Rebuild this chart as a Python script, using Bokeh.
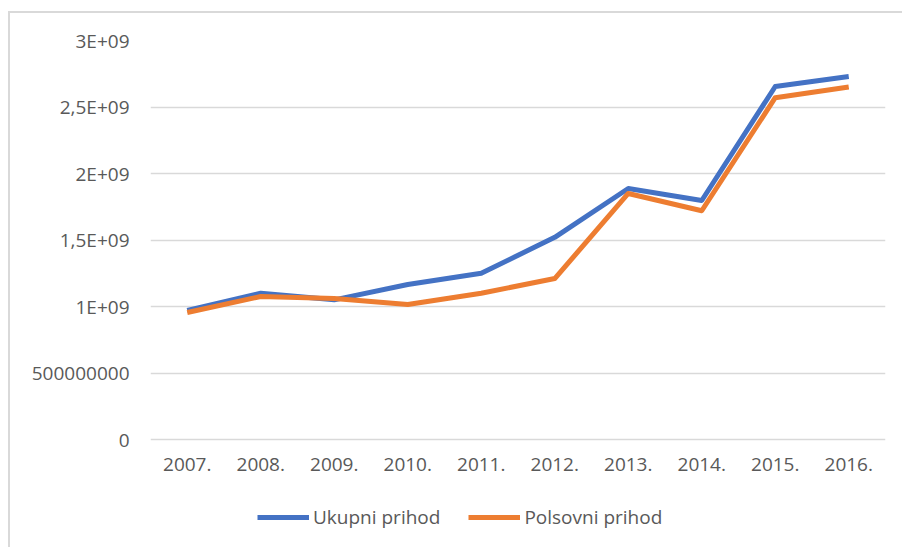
from bokeh.plotting import figure
from bokeh.embed import file_html
from bokeh.resources import INLINE
from bokeh.models import FixedTicker, Legend, LegendItem, ColumnDataSource

years = ["2007.", "2008.", "2009.", "2010.", "2011.", "2012.", "2013.", "2014.", "2015.", "2016."]
ukupni = [0.97e9, 1.10e9, 1.05e9, 1.165e9, 1.25e9, 1.52e9, 1.887e9, 1.797e9, 2.654e9, 2.73e9]
polsovni = [0.955e9, 1.075e9, 1.06e9, 1.015e9, 1.10e9, 1.21e9, 1.85e9, 1.72e9, 2.57e9, 2.65e9]
y_ticks = [0, 5e8, 1e9, 1.5e9, 2e9, 2.5e9, 3e9]
y_labels = ["0", "500000000", "1E+09", "1,5E+09", "2E+09", "2,5E+09", "3E+09"]

FONT = "Open Sans"
TXT = "#595959"

# frame extends below zero so that the legend can sit inside it
EXTRA_PX = 108
FRAME_H = 399 + EXTRA_PX
y_start = -3e9 * EXTRA_PX / 399

p = figure(x_range=years, y_range=(y_start, 3e9), frame_width=735, frame_height=FRAME_H,
           min_border_left=140, min_border_top=27, min_border_right=17, min_border_bottom=0,
           output_backend="svg", toolbar_location=None)
p.outline_line_color = None
p.background_fill_color = "white"
p.border_fill_color = "white"
p.styles = {"margin-left": "8px", "margin-top": "11px",
            "border-left": "2px solid #d9d9d9", "border-top": "2px solid #d9d9d9"}

src = ColumnDataSource(dict(x=years, u=ukupni, pl=polsovni))
r1 = p.line("x", "u", source=src, line_color="#4472C4", line_width=5, line_join="round")
r2 = p.line("x", "pl", source=src, line_color="#ED7D31", line_width=5, line_join="round")

p.xgrid.grid_line_color = None
p.ygrid.grid_line_color = "#d9d9d9"
p.ygrid.grid_line_width = 1.5

p.yaxis.ticker = FixedTicker(ticks=y_ticks)
p.yaxis.major_label_overrides = {t: l for t, l in zip(y_ticks, y_labels)}
for ax in (p.xaxis[0], p.yaxis[0]):
    ax.axis_line_color = None
    ax.major_tick_line_color = None
    ax.minor_tick_line_color = None
    ax.major_label_text_font = FONT
    ax.major_label_text_font_size = "19px"
    ax.major_label_text_color = TXT
p.yaxis.major_label_standoff = 15
p.xaxis.major_label_standoff = 12
p.xaxis.fixed_location = 0
p.x_range.range_padding = 0

legend = Legend(items=[LegendItem(label="Ukupni prihod", renderers=[r1]),
                       LegendItem(label="Polsovni prihod", renderers=[r2])],
                orientation="horizontal", location=(107, 17),
                label_text_font=FONT, label_text_font_size="19px", label_text_color=TXT,
                glyph_width=52, glyph_height=20, label_standoff=4, spacing=28,
                border_line_color=None, background_fill_alpha=0, margin=0, padding=5)
p.add_layout(legend, "center")

open("out.html", "w").write(file_html(p, INLINE))
